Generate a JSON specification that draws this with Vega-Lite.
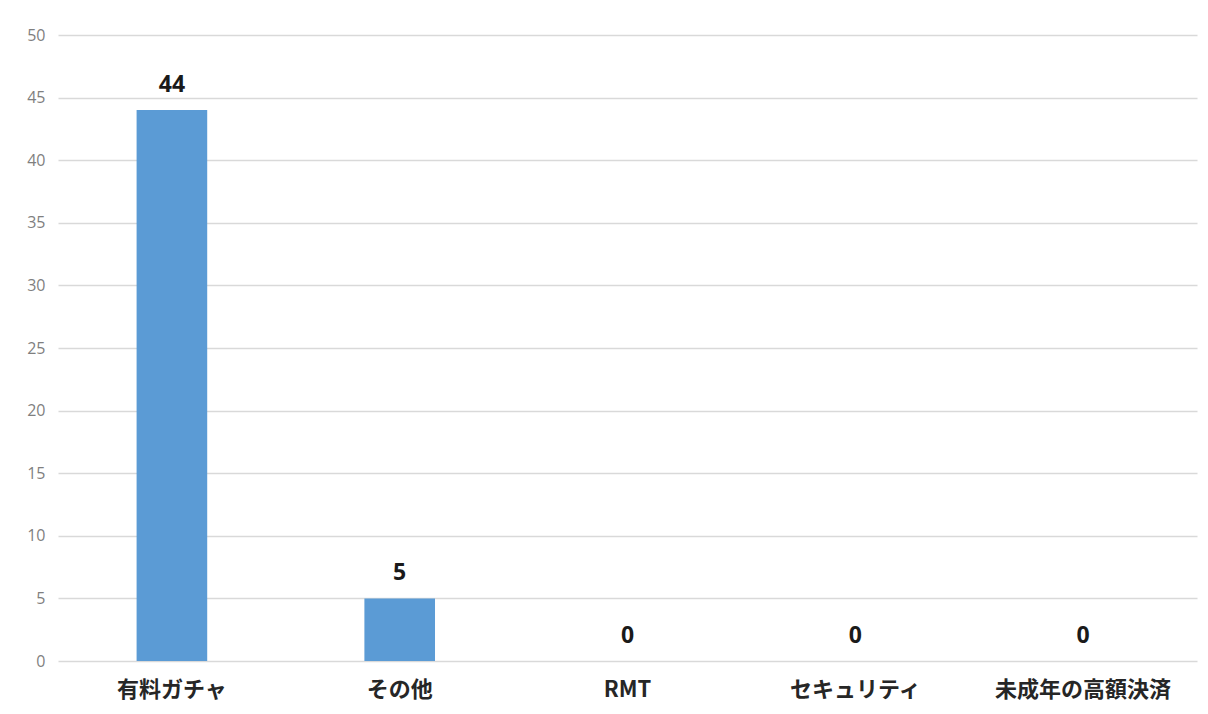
{
  "$schema": "https://vega.github.io/schema/vega-lite/v6.json",
  "autosize": {"type": "none"},
  "width": 1139,
  "height": 626,
  "padding": {"left": 58, "top": 35, "right": 11, "bottom": 53},
  "background": "white",
  "config": {"view": {"stroke": null}},
  "data": {
    "values": [
      {"category": "有料ガチャ", "count": 44},
      {"category": "その他", "count": 5},
      {"category": "RMT", "count": 0},
      {"category": "セキュリティ", "count": 0},
      {"category": "未成年の高額決済", "count": 0}
    ]
  },
  "encoding": {
    "x": {
      "field": "category",
      "type": "nominal",
      "sort": null,
      "scale": {"paddingInner": 0.69, "paddingOuter": 0.345},
      "axis": {
        "title": null,
        "labelAngle": 0,
        "domain": false,
        "ticks": false,
        "labelFont": "Noto Sans CJK JP",
        "labelFontSize": 22,
        "labelFontWeight": "bold",
        "labelColor": "#262626",
        "labelPadding": 18
      }
    },
    "y": {
      "field": "count",
      "type": "quantitative",
      "scale": {"domain": [0, 50]},
      "axis": {
        "title": null,
        "values": [0, 5, 10, 15, 20, 25, 30, 35, 40, 45, 50],
        "domain": false,
        "ticks": false,
        "grid": true,
        "gridColor": "#d9d9d9",
        "gridWidth": 1.3,
        "labelFont": "Open Sans",
        "labelFontSize": 16,
        "labelColor": "#7f7f7f",
        "labelPadding": 13
      }
    }
  },
  "layer": [
    {"mark": {"type": "bar", "color": "#5b9bd5"}},
    {
      "mark": {
        "type": "text",
        "dy": -25,
        "baseline": "middle",
        "font": "Open Sans",
        "fontSize": 23,
        "fontWeight": "bold",
        "color": "#1a1a1a"
      },
      "encoding": {"text": {"field": "count", "type": "quantitative"}}
    }
  ]
}
